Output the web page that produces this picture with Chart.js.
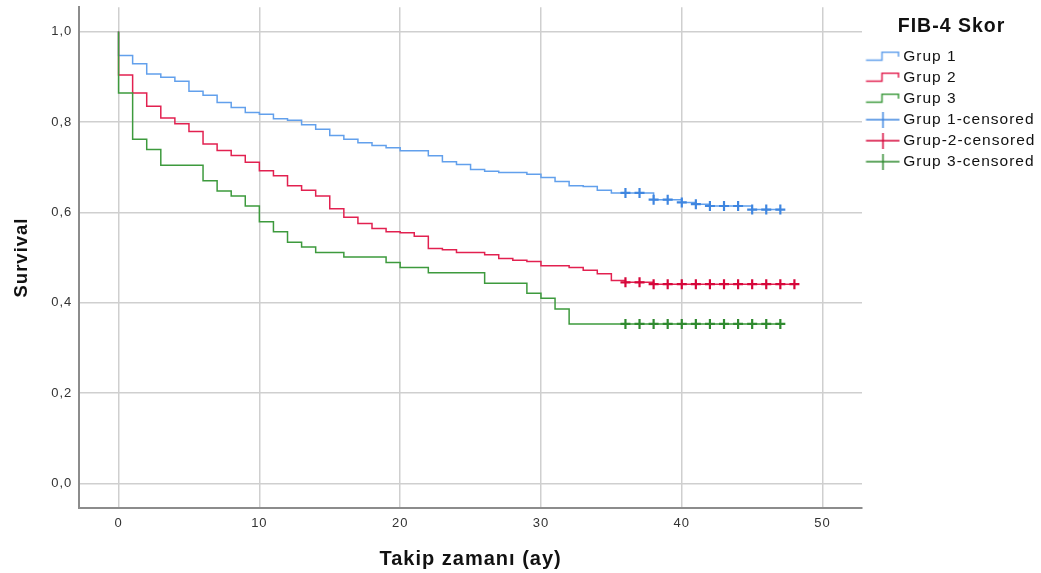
<!DOCTYPE html>
<html lang="tr">
<head>
<meta charset="UTF-8">
<title>FIB-4 Skor - Survival</title>
<script src="https://cdn.jsdelivr.net/npm/chart.js"></script>
<style>
	body { margin: 0; background: #fff; }
	#wrap { width: 1041px; height: 573px; }
</style>
</head>
<body>
<div id="wrap"><canvas id="kmChart"></canvas></div>

<script>
// Kaplan-Meier steps (time in months, survival)
const grup1Times = [0, 0, 1, 2, 3, 4, 5, 6, 7, 8, 9, 10, 11, 12, 13, 14, 15, 16, 17, 18, 19, 20, 22, 23, 24, 25, 26, 27, 29, 30, 31, 32, 33, 34, 35, 38, 40, 41, 42, 45, 47];
const grup1Surv  = [1, 0.947, 0.929, 0.906, 0.899, 0.890, 0.868, 0.859, 0.843, 0.832, 0.821, 0.817, 0.807, 0.804, 0.794, 0.784, 0.770, 0.762, 0.754, 0.748, 0.743, 0.736, 0.725, 0.712, 0.706, 0.695, 0.691, 0.688, 0.684, 0.677, 0.668, 0.659, 0.657, 0.649, 0.643, 0.628, 0.622, 0.618, 0.614, 0.606, 0.606];

const grup2Times = [0, 0, 1, 2, 3, 4, 5, 6, 7, 8, 9, 10, 11, 12, 13, 14, 15, 16, 17, 18, 19, 20, 21, 22, 23, 24, 26, 27, 28, 29, 30, 32, 33, 34, 35, 36, 38, 48];
const grup2Surv  = [1, 0.904, 0.864, 0.835, 0.809, 0.796, 0.779, 0.751, 0.737, 0.726, 0.711, 0.692, 0.681, 0.659, 0.649, 0.636, 0.608, 0.589, 0.575, 0.564, 0.557, 0.555, 0.547, 0.520, 0.517, 0.511, 0.506, 0.498, 0.494, 0.491, 0.482, 0.478, 0.472, 0.464, 0.449, 0.445, 0.441, 0.441];

const grup3Times = [0, 0, 1, 2, 3, 6, 7, 8, 9, 10, 11, 12, 13, 14, 16, 19, 20, 22, 26, 29, 30, 31, 32, 47];
const grup3Surv  = [1, 0.864, 0.762, 0.739, 0.704, 0.670, 0.647, 0.636, 0.614, 0.579, 0.557, 0.534, 0.523, 0.511, 0.501, 0.489, 0.478, 0.466, 0.443, 0.421, 0.410, 0.386, 0.353, 0.353];

// censored observations (months)
const grup1Censored = [36, 37, 38, 39, 40, 41, 42, 43, 44, 45, 46, 47];
const grup2Censored = [36, 37, 38, 39, 40, 41, 42, 43, 44, 45, 46, 47, 48];
const grup3Censored = [36, 37, 38, 39, 40, 41, 42, 43, 44, 45, 46, 47];

const seriesNames = ['Grup 1', 'Grup 2', 'Grup 3', 'Grup 1-censored', 'Grup-2-censored', 'Grup 3-censored'];
const xTicks = [0, 10, 20, 30, 40, 50];
const yTicks = [0, 0.2, 0.4, 0.6, 0.8, 1.0];

const lineColors = ['#62a0ec', '#e22150', '#3d9a3d'];
const censorColors = ['#3f86e0', '#d6063a', '#2f8a2f'];

function toPoints(times, surv) {
	return times.map((t, i) => ({x: t, y: surv[i]}));
}

// survival level at time t (for placing the censor marks on the curve)
function levelAt(times, surv, t) {
	let v = surv[0];
	for (let i = 0; i < times.length; i++) {
		if (times[i] <= t) v = surv[i];
	}
	return v;
}

function censorPoints(times, surv, cens) {
	return cens.map(t => ({x: t, y: levelAt(times, surv, t)}));
}

// little legend icons, like SPSS: a step for curves, a cross for censored
function stepIcon(color) {
	const c = document.createElement('canvas');
	c.width = 38; c.height = 12;
	const g = c.getContext('2d');
	g.strokeStyle = color; g.lineWidth = 1.5;
	g.beginPath();
	g.moveTo(3.5, 9.5); g.lineTo(19.5, 9.5); g.lineTo(19.5, 1.5); g.lineTo(36, 1.5); g.lineTo(36, 6);
	g.stroke();
	return c;
}
function crossIcon(color) {
	const c = document.createElement('canvas');
	c.width = 38; c.height = 16;
	const g = c.getContext('2d');
	g.strokeStyle = color; g.lineWidth = 1.5;
	g.beginPath();
	g.moveTo(3.5, 8); g.lineTo(37, 8);
	g.moveTo(20.5, 0); g.lineTo(20.5, 16);
	g.stroke();
	return c;
}
const legendIcons = [
	stepIcon(lineColors[0]), stepIcon(lineColors[1]), stepIcon(lineColors[2]),
	crossIcon(censorColors[0]), crossIcon(censorColors[1]), crossIcon(censorColors[2])
];

// the SPSS export has slightly wide lettering
const letterSpacing = {
	id: 'letterSpacing',
	beforeLayout(chart) { chart.ctx.letterSpacing = '1px'; },
	beforeDraw(chart) { chart.ctx.letterSpacing = '1px'; }
};

Chart.defaults.font.family = 'Arial, "Liberation Sans", sans-serif';
Chart.defaults.color = '#333';

const allTimes = [grup1Times, grup2Times, grup3Times];
const allSurv = [grup1Surv, grup2Surv, grup3Surv];
const allCens = [grup1Censored, grup2Censored, grup3Censored];

const datasets = [];
for (let k = 0; k < 3; k++) {
	datasets.push({
		label: seriesNames[k],
		data: toPoints(allTimes[k], allSurv[k]),
		stepped: true,
		borderColor: lineColors[k],
		borderWidth: 1.5,
		pointRadius: 0,
		fill: false,
		order: 3 - k
	});
}
for (let k = 0; k < 3; k++) {
	datasets.push({
		label: seriesNames[k + 3],
		data: censorPoints(allTimes[k], allSurv[k], allCens[k]),
		showLine: false,
		pointStyle: 'cross',
		pointRadius: 5,
		pointBorderWidth: 2.2,
		borderColor: censorColors[k],
		backgroundColor: censorColors[k],
		order: 0
	});
}

new Chart(document.getElementById('kmChart'), {
	type: 'line',
	data: { datasets: datasets },
	plugins: [letterSpacing],
	options: {
		responsive: true,
		maintainAspectRatio: false,
		animation: false,
		layout: { padding: { top: 7, right: 0, bottom: 0, left: 0 } },
		plugins: {
			tooltip: { enabled: false },
			legend: {
				position: 'right',
				align: 'start',
				maxWidth: 179,
				title: {
					display: true,
					text: 'FIB-4 Skor',
					color: '#111',
					font: { size: 19.5, weight: 'bold' },
					padding: { top: 10, bottom: 3 }
				},
				labels: {
					usePointStyle: true,
					pointStyleWidth: 28,
					padding: 5.5,
					color: '#1a1a1a',
					font: { size: 15.5 },
					generateLabels: function(chart) {
						return seriesNames.map((name, i) => ({
							text: name,
							pointStyle: legendIcons[i],
							fillStyle: 'transparent',
							strokeStyle: 'transparent',
							lineWidth: 0,
							hidden: false,
							datasetIndex: i
						}));
					}
				}
			}
		},
		scales: {
			x: {
				type: 'linear',
				min: -2.79,
				max: 52.8,
				afterBuildTicks: s => { s.ticks = xTicks.map(v => ({value: v})); },
				grid: { color: '#cfcfcf', lineWidth: 1.5, drawTicks: false },
				border: { color: '#8c8c8c', width: 2 },
				ticks: { padding: 8, font: { size: 13 }, color: '#333' },
				title: {
					display: true,
					text: 'Takip zamanı (ay)',
					color: '#111',
					font: { size: 20, weight: 'bold' },
					padding: { top: 7.6, bottom: 2 }
				}
			},
			y: {
				min: -0.054,
				max: 1.054,
				afterBuildTicks: s => { s.ticks = yTicks.map(v => ({value: v})); },
				// tick labels sit well inside the range, no need for extra room at the ends
				afterFit: s => { s.paddingTop = 0; s.paddingBottom = 0; },
				grid: { color: '#cfcfcf', lineWidth: 1.5, drawTicks: false },
				border: { color: '#8c8c8c', width: 2 },
				ticks: {
					padding: 7,
					font: { size: 13 },
					color: '#333',
					callback: v => v.toFixed(1).replace('.', ',')
				},
				title: {
					display: true,
					text: 'Survival',
					color: '#111',
					font: { size: 18.5, weight: 'bold' },
					padding: { top: 11, bottom: 11 }
				}
			}
		}
	}
});
</script>
</body>
</html>
